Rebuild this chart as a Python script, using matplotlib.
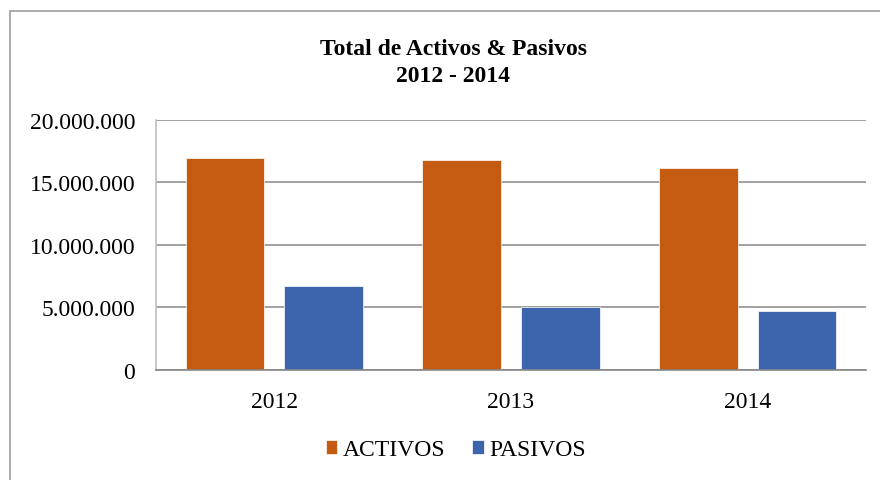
import matplotlib
matplotlib.use('Agg')
import matplotlib.pyplot as plt
import numpy as np
from matplotlib.patches import Rectangle
from matplotlib.ticker import FuncFormatter

plt.rcParams['font.family'] = ['Liberation Serif', 'DejaVu Serif']

# datos
years = ['2012', '2013', '2014']
activos = [16920000, 16760000, 16140000]
pasivos = [6680000, 5000000, 4700000]
series_names = ['ACTIVOS', 'PASIVOS']
colors = ['#C55A11', '#3D65AD']

fig = plt.figure(figsize=(8.8, 4.81), dpi=100)

# marco del área del gráfico (cortado a la derecha y abajo)
fig.patches.append(Rectangle((10 / 880, -0.1), 1.2, (481 - 12) / 481 + 0.1,
                             transform=fig.transFigure, fill=False,
                             edgecolor='#A6A6A6', lw=1.3))

ax = fig.add_axes([156 / 880, 110 / 481, 710 / 880, 250.3 / 481])

x = np.arange(len(years))
w = 0.332
off = 0.208
ax.bar(x - off, activos, w, color=colors[0], edgecolor='white', linewidth=0.5,
       label=series_names[0], zorder=3)
ax.bar(x + off, pasivos, w, color=colors[1], edgecolor='white', linewidth=0.5,
       label=series_names[1], zorder=3)

ax.set_xlim(-0.5, 2.5)
ax.set_ylim(0, 20000000)
ax.set_yticks(np.arange(0, 20000001, 5000000))
ax.yaxis.set_major_formatter(FuncFormatter(lambda v, p: f'{int(v):,}'.replace(',', '.')))
ax.set_xticks(x)
ax.set_xticklabels(years)
ax.tick_params(axis='both', length=0, labelsize=17)
ax.tick_params(axis='y', pad=15)
ax.tick_params(axis='x', pad=15)

ax.grid(axis='y', color='#878787', linewidth=1.1, zorder=0)
for s in ['top', 'right']:
    ax.spines[s].set_visible(False)
ax.spines['left'].set_color('#BFBFBF')
ax.spines['left'].set_linewidth(1.2)
ax.spines['bottom'].set_color('#878787')
ax.spines['bottom'].set_linewidth(1.2)
ax.spines['bottom'].set_zorder(4)

fig.text(0.515, (481 - 55) / 481, 'Total de Activos & Pasivos', ha='center',
         va='baseline', fontsize=17, fontweight='bold')
fig.text(0.515, (481 - 81.7) / 481, '2012 - 2014', ha='center',
         va='baseline', fontsize=17, fontweight='bold')

fig.legend(loc='center', bbox_to_anchor=(0.518, 0.063), ncol=2, frameon=False,
           fontsize=17, handlelength=0.5, handleheight=0.5, handletextpad=0.25,
           columnspacing=1.1)

fig.savefig('out.png', dpi=100)
